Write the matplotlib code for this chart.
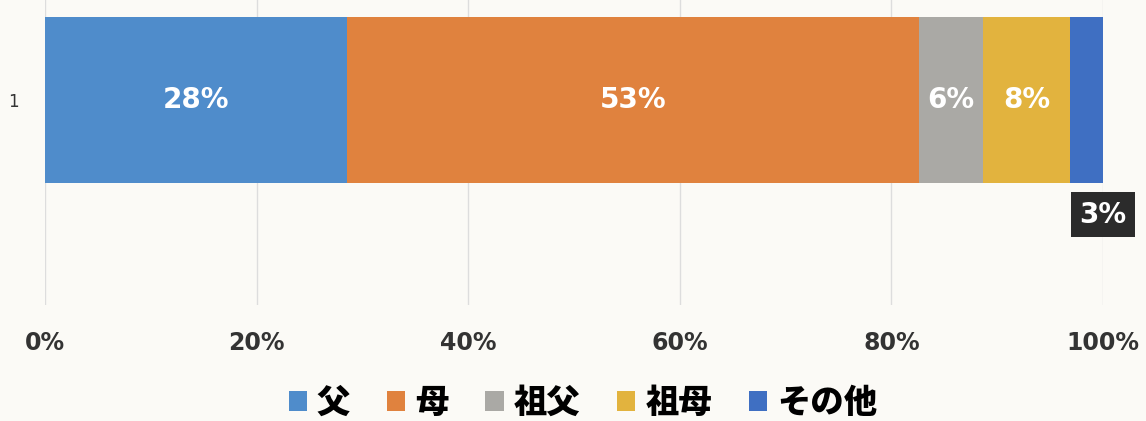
import matplotlib
matplotlib.use("Agg")
import matplotlib.pyplot as plt
from matplotlib.patches import Patch

categories = ["父", "母", "祖父", "祖母", "その他"]
values = [28.5, 54.1, 6.1, 8.2, 3.1]
labels = ["28%", "53%", "6%", "8%", "3%"]
colors = ["#4f8ccb", "#e0823e", "#aaa9a5", "#e2b33e", "#3f6fc2"]
xticks = [0, 20, 40, 60, 80, 100]
xticklabels = ["0%", "20%", "40%", "60%", "80%", "100%"]

BG = "#fbfaf6"
TXT = "#333333"
CJK = ["Noto Sans CJK JP", "DejaVu Sans"]

fig = plt.figure(figsize=(11.46, 4.21), dpi=100, facecolor=BG)
ax = fig.add_axes([45 / 1146, 1 - 305 / 421, (1103 - 45) / 1146, 305 / 421])
ax.set_facecolor(BG)

left = 0.0
for v, c, lab, name in zip(values, colors, labels, categories):
    ax.barh(0, v, left=left, height=1.0, color=c, label=name, zorder=2)
    if name == "その他":
        # small segment: label sits in a dark box under the bar end
        ax.text(left + v, -0.69, lab, ha="center", va="center",
                color="white", fontsize=20, fontweight="bold",
                bbox=dict(boxstyle="square,pad=0.3", fc="#2b2b2b", ec="none"),
                zorder=4)
    else:
        ax.text(left + v / 2, 0, lab, ha="center", va="center", color="white",
                fontsize=20, fontweight="bold", zorder=3)
    left += v

ax.set_xlim(0, 100)
ax.set_ylim(-1.235, 0.602)
ax.set_xticks(xticks)
ax.set_xticklabels(xticklabels, fontsize=17, fontweight="bold", color=TXT)
ax.set_yticks([0])
ax.set_yticklabels(["1"], fontsize=12, color=TXT)
ax.tick_params(axis="x", length=0, pad=19)
ax.tick_params(axis="y", length=0, pad=19)
ax.grid(axis="x", color="#dddddd", lw=1.0, zorder=0)
for s in ax.spines.values():
    s.set_visible(False)

handles = [Patch(facecolor=c, label=n) for c, n in zip(colors, categories)]
fig.legend(handles=handles, loc="center", bbox_to_anchor=(583 / 1146, 1 - 402 / 421),
           ncol=5, frameon=False, handlelength=0.55, handleheight=0.55,
           handletextpad=0.3, columnspacing=1.1,
           prop={"family": CJK, "weight": "black", "size": 24})

fig.savefig("out.png", dpi=100, facecolor=BG)
